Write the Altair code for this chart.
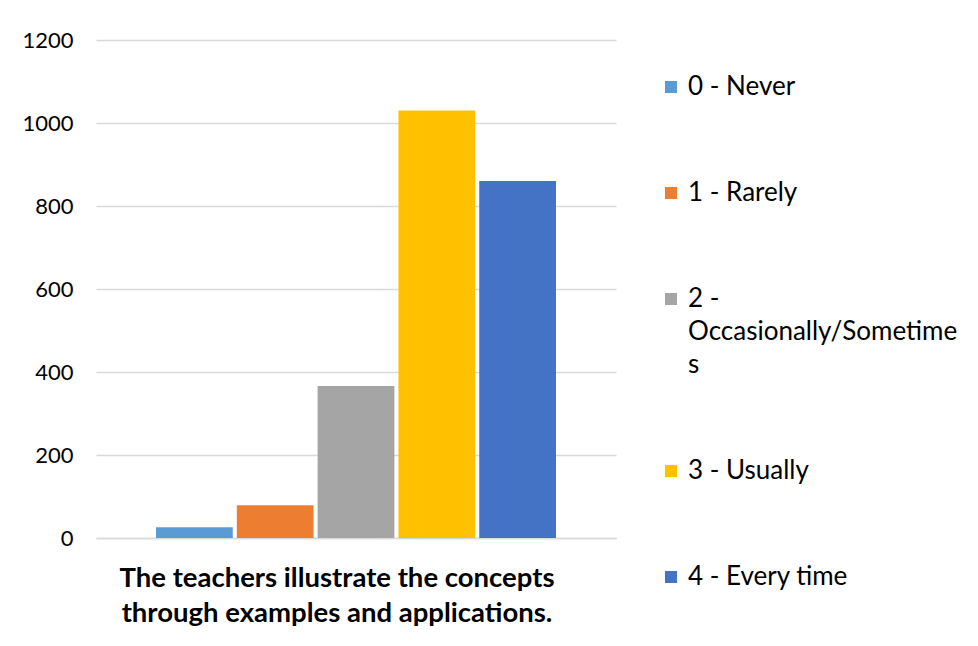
import altair as alt
import pandas as pd

question = ["The teachers illustrate the concepts through examples and applications."]
responses = ["0 - Never", "1 - Rarely", "2 - Occasionally/Sometimes", "3 - Usually", "4 - Every time"]
counts = [26, 79, 366, 1030, 860]
colors = ["#5B9BD5", "#ED7D31", "#A5A5A5", "#FFC000", "#4472C4"]

df = pd.DataFrame({
    "question": question * len(responses),
    "response": responses,
    "count": counts,
})

label_font = "Lato"

chart = alt.Chart(df).mark_bar().encode(
    x=alt.X(
        "question:N",
        title=None,
        scale=alt.Scale(paddingOuter=0.15, paddingInner=0),
        axis=alt.Axis(
            labelExpr="['The teachers illustrate the concepts', 'through examples and applications.']",
            labelAngle=0,
            labelFont=label_font,
            labelFontSize=27.5,
            labelFontWeight="bold",
            labelColor="#000000",
            labelLineHeight=35,
            labelPadding=26,
            labelOffset=-19,
            labelLimit=700,
            ticks=False,
            domainColor="#D9D9D9",
            domainWidth=1.5,
            grid=False,
        ),
    ),
    xOffset=alt.XOffset(
        "response:N",
        sort=responses,
        scale=alt.Scale(paddingInner=0.05, paddingOuter=0),
    ),
    y=alt.Y(
        "count:Q",
        title=None,
        scale=alt.Scale(domain=[0, 1200]),
        axis=alt.Axis(
            values=[0, 200, 400, 600, 800, 1000, 1200],
            format="d",
            labelFont=label_font,
            labelFontSize=22,
            labelColor="#000000",
            labelPadding=23,
            ticks=False,
            domain=False,
            gridColor="#D9D9D9",
            gridWidth=1.5,
        ),
    ),
    color=alt.Color(
        "response:N",
        sort=responses,
        scale=alt.Scale(domain=responses, range=colors),
        legend=alt.Legend(
            title=None,
            orient="none",
            legendX=562,
            legendY=34,
            symbolType="square",
            symbolSize=144,
            symbolStrokeWidth=0,
            labelFont=label_font,
            labelFontSize=26,
            labelColor="#000000",
            labelOffset=4,
            labelLimit=400,
            rowPadding=80,
            labelExpr="datum.label == '2 - Occasionally/Sometimes' ? ['2 -', 'Occasionally/Sometime', 's'] : datum.label",
        ),
    ),
).properties(
    width=520,
    height=498,
    autosize=alt.AutoSizeParams(type="none"),
    padding={"left": 88, "top": 32, "right": 354, "bottom": 98},
).configure(
    view={"stroke": None},
    style={"guide-label": {"lineHeight": 33}},
)

chart.save("out.html", embed_options={"renderer": "svg", "actions": False})
